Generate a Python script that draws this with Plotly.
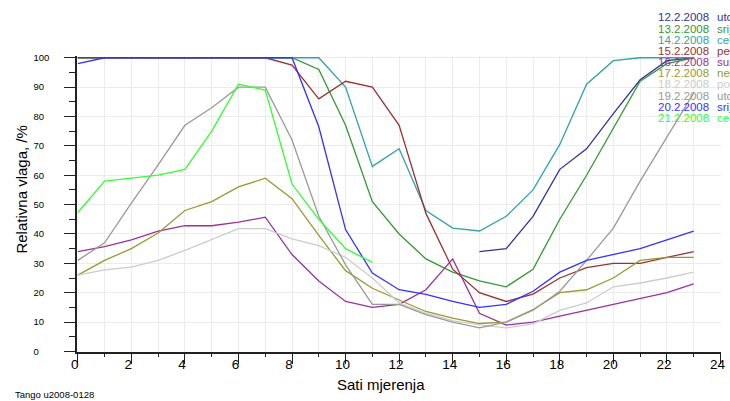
import plotly.graph_objects as go

# ---------------- data ----------------
hours = list(range(24))

dates = ["12.2.2008", "13.2.2008", "14.2.2008", "15.2.2008", "16.2.2008",
         "17.2.2008", "18.2.2008", "19.2.2008", "20.2.2008", "21.2.2008"]
days = ["utorak", "srijeda", "cetvrtak", "petak", "subota",
        "nedjelja", "ponedjeljak", "utorak", "srijeda", "cetvrtak"]
colors = ["#333399", "#339933", "#33a3a3", "#993333", "#993399",
          "#999933", "#cccccc", "#999999", "#3333ff", "#33ff33"]

N = None
rh_12 = [N, N, N, N, N, N, N, N, N, N, N, N, N, N, N,
         34, 35, 46, 62, 69, 81, 92.5, 99, 100]
rh_13 = [100, 100, 100, 100, 100, 100, 100, 100, 100, 96, 77, 51, 40, 31.5,
         27, 24, 22, 28, 45, 60, 76, 92, 98, 100]
rh_14 = [100, 100, 100, 100, 100, 100, 100, 100, 100, 100, 90, 63, 69, 48,
         42, 41, 46, 55, 70.5, 91, 99, 100, 100, 100]
rh_15 = [100, 100, 100, 100, 100, 100, 100, 100, 97.5, 86, 92, 90, 77, 47,
         28, 20, 17, 19.5, 25, 28.5, 30, 30, 32, 34]
rh_16 = [34, 35.7, 38, 41, 42.8, 42.8, 44, 45.7, 33, 24, 17, 15, 16, 21,
         31.5, 13, 9, 10, 12, 14, 16, 18, 20, 23]
rh_17 = [26, 31, 35, 40.3, 48, 51, 56, 59, 52, 39.5, 27.5, 21.5, 17.5, 13.6,
         11.3, 9.5, 10, 14.2, 20, 21, 25, 31, 32, 32]
rh_18 = [26, 27.8, 28.7, 31, 34.4, 38, 41.8, 41.8, 38.3, 36, 32, 25, 16.5, 13,
         10.5, 9, 8, 9.4, 14, 16.5, 22, 23.3, 25, 27]
rh_19 = [31, 37, 50.5, 63.5, 77, 83, 90, 90, 72, 46, 29.5, 16, 16, 12.5,
         10, 8, 10, 14, 20.5, 31, 42, 58, 73, 88]
rh_20 = [98, 100, 100, 100, 100, 100, 100, 100, 100, 76.5, 41.5, 26.7, 21, 19.4,
         17, 15, 16, 20.5, 27, 31, 33, 35, 38, 41]
rh_21 = [47.3, 58, 59, 60, 62, 75, 91, 89, 57, 45, 35, 30.3,
         N, N, N, N, N, N, N, N, N, N, N, N]

series = [rh_12, rh_13, rh_14, rh_15, rh_16, rh_17, rh_18, rh_19, rh_20, rh_21]

y_ticks = list(range(0, 101, 10))
x_ticks = list(range(0, 25, 2))

# ---------------- layout geometry ----------------
W, H = 730, 401
L, R, T, B = 76.5, 9.1, 55.7, 48.7
FONT = "Liberation Sans, Arial, sans-serif"


def px(xp):
    return (xp - L) / (W - L - R)


def py(yp):
    return 1 - (yp - T) / (H - T - B)


fig = go.Figure()
for vals, c, d in zip(series, colors, dates):
    fig.add_trace(go.Scatter(x=hours, y=vals, mode="lines", name=d,
                             line=dict(color=c, width=1.3),
                             connectgaps=False, showlegend=False,
                             hoverinfo="skip"))

grid_c = "#ececec"
fig.update_layout(
    width=W, height=H,
    margin=dict(l=L, r=R, t=T, b=B, pad=0, autoexpand=False),
    paper_bgcolor="white", plot_bgcolor="white",
    font=dict(family=FONT, color="#000000"),
    xaxis=dict(range=[-0.03, 24.02], tickvals=x_ticks,
               ticktext=[str(v) for v in x_ticks], automargin=False,
               showgrid=True, gridcolor=grid_c, gridwidth=1,
               zeroline=False, showline=True, linecolor="#222222", linewidth=1.5,
               ticks="outside", ticklen=10, tickwidth=1.3, tickcolor="#222222",
               tickfont=dict(size=13.5, family=FONT, color="#000000"),
               ticklabelshift=-3, ticklabelstandoff=-11,
               minor=dict(dtick=1, ticks="outside", ticklen=3, tickwidth=1.3,
                          tickcolor="#222222", showgrid=True,
                          gridcolor=grid_c, gridwidth=1)),
    yaxis=dict(range=[-0.2, 100.6], tickvals=y_ticks,
               ticktext=[str(v) + "\u2007" * (3 - len(str(v))) for v in y_ticks],
               automargin=False,
               showgrid=True, gridcolor=grid_c, gridwidth=1,
               zeroline=False, showline=True, linecolor="#222222", linewidth=1.5,
               ticks="outside", ticklen=11, tickwidth=1.3, tickcolor="#222222",
               tickfont=dict(size=9.5, family=FONT, color="#000000"),
               ticklabelstandoff=13,
               minor=dict(dtick=5, ticks="outside", ticklen=6, tickwidth=1.3,
                          tickcolor="#222222", showgrid=False)),
)

# legend-like text block (top right)
for i, (d, w, c) in enumerate(zip(dates, days, colors)):
    yc = 17 + 11.2 * i
    fig.add_annotation(x=px(655.5), y=py(yc), xref="paper", yref="paper",
                       text=d, showarrow=False, xanchor="left", yanchor="middle",
                       font=dict(size=11.5, family=FONT, color=c))
    fig.add_annotation(x=px(715), y=py(yc), xref="paper", yref="paper",
                       text=w, showarrow=False, xanchor="left", yanchor="middle",
                       font=dict(size=11.5, family=FONT, color=c))

# axis titles
fig.add_annotation(x=px(381), y=py(385), xref="paper", yref="paper",
                   text="Sati mjerenja", showarrow=False,
                   xanchor="center", yanchor="middle",
                   font=dict(size=15, family=FONT, color="#000000"))
fig.add_annotation(x=px(20), y=py(190), xref="paper", yref="paper",
                   text="Relativna vlaga, /%", showarrow=False, textangle=-90,
                   xanchor="center", yanchor="middle",
                   font=dict(size=15, family=FONT, color="#000000"))
# footer
fig.add_annotation(x=px(12), y=py(395), xref="paper", yref="paper",
                   text="Tango u2008-0128", showarrow=False,
                   xanchor="left", yanchor="middle",
                   font=dict(size=9.5, family=FONT, color="#000000"))

fig.write_html("out.html")
